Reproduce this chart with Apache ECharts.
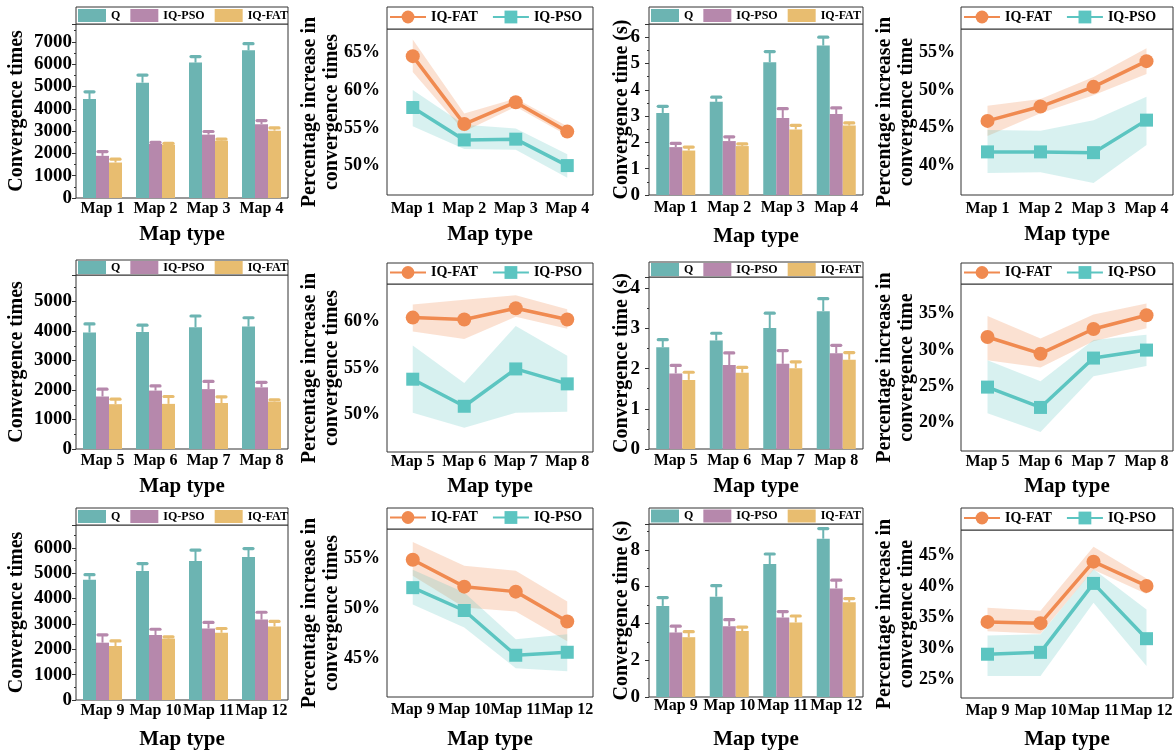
<!DOCTYPE html>
<html><head><meta charset="utf-8">
<script src="https://cdn.jsdelivr.net/npm/echarts@6/dist/echarts.min.js"></script>
<style>html,body{margin:0;padding:0;background:#fff}#c{width:1174px;height:753px}</style>
</head><body><div id="c"></div><script>
const FONT = '"Times New Roman","Liberation Serif",serif';

// ---------- categories ----------
const catsRow1 = ['Map 1', 'Map 2', 'Map 3', 'Map 4'];
const catsRow2 = ['Map 5', 'Map 6', 'Map 7', 'Map 8'];
const catsRow3 = ['Map 9', 'Map 10', 'Map 11', 'Map 12'];

// ---------- tick labels ----------
const ticksB = [50, 55, 60, 65];
const ticksD = [40, 45, 50, 55];
const ticksF = [50, 55, 60];
const ticksH = [20, 25, 30, 35];
const ticksJ = [45, 50, 55];
const ticksL = [25, 30, 35, 40, 45];

// ---------- Row 1: convergence times (bars) ----------
const r1TimesQ = [4440, 5170, 6070, 6620];
const r1TimesQErr = [320, 340, 270, 300];
const r1TimesPSO = [1890, 2420, 2840, 3310];
const r1TimesPSOErr = [190, 70, 140, 160];
const r1TimesFAT = [1590, 2390, 2570, 3020];
const r1TimesFATErr = [150, 60, 70, 120];
// Row 1: convergence time (s)
const r1SecQ = [3.12, 3.54, 5.05, 5.68];
const r1SecQErr = [0.25, 0.18, 0.40, 0.32];
const r1SecPSO = [1.82, 2.05, 2.93, 3.08];
const r1SecPSOErr = [0.14, 0.16, 0.35, 0.23];
const r1SecFAT = [1.69, 1.86, 2.49, 2.64];
const r1SecFATErr = [0.13, 0.08, 0.16, 0.10];
// Row 1: percentage increase in convergence times
const r1PctTimesFAT = [64.5, 55.5, 58.4, 54.5];
const r1PctTimesFATUp = [66.7, 56.9, 58.9, 55.2];
const r1PctTimesFATLo = [62.4, 54.5, 57.8, 54.0];
const r1PctTimesPSO = [57.7, 53.4, 53.5, 50.0];
const r1PctTimesPSOUp = [60.0, 55.4, 54.9, 51.5];
const r1PctTimesPSOLo = [55.2, 52.2, 52.1, 48.4];
// Row 1: percentage increase in convergence time
const r1PctSecFAT = [45.9, 47.8, 50.4, 53.8];
const r1PctSecFATUp = [47.9, 48.8, 51.7, 55.5];
const r1PctSecFATLo = [43.9, 46.9, 49.3, 52.1];
const r1PctSecPSO = [41.8, 41.8, 41.7, 46.0];
const r1PctSecPSOUp = [44.7, 44.6, 46.0, 49.1];
const r1PctSecPSOLo = [39.0, 39.1, 37.7, 42.7];

// ---------- Row 2 ----------
const r2TimesQ = [3950, 3970, 4130, 4150];
const r2TimesQErr = [290, 230, 380, 300];
const r2TimesPSO = [1780, 1980, 2030, 2090];
const r2TimesPSOErr = [250, 160, 260, 170];
const r2TimesFAT = [1520, 1530, 1560, 1610];
const r2TimesFATErr = [170, 250, 210, 60];
const r2SecQ = [2.53, 2.70, 3.01, 3.43];
const r2SecQErr = [0.19, 0.18, 0.37, 0.31];
const r2SecPSO = [1.88, 2.09, 2.12, 2.38];
const r2SecPSOErr = [0.20, 0.30, 0.33, 0.20];
const r2SecFAT = [1.72, 1.90, 2.01, 2.22];
const r2SecFATErr = [0.19, 0.13, 0.16, 0.18];
const r2PctTimesFAT = [60.4, 60.2, 61.4, 60.2];
const r2PctTimesFATUp = [61.8, 62.3, 62.8, 61.3];
const r2PctTimesFATLo = [58.9, 58.1, 60.5, 59.2];
const r2PctTimesPSO = [53.8, 50.9, 54.9, 53.3];
const r2PctTimesPSOUp = [57.4, 53.4, 59.5, 56.3];
const r2PctTimesPSOLo = [50.2, 48.6, 50.2, 50.3];
const r2PctSecFAT = [31.8, 29.5, 32.9, 34.8];
const r2PctSecFATUp = [34.7, 31.6, 34.9, 36.4];
const r2PctSecFATLo = [28.6, 27.6, 31.2, 33.0];
const r2PctSecPSO = [24.9, 22.1, 28.9, 30.0];
const r2PctSecPSOUp = [28.6, 25.7, 31.4, 32.1];
const r2PctSecPSOLo = [21.3, 18.7, 26.4, 27.8];

// ---------- Row 3 ----------
const r3TimesQ = [4740, 5090, 5480, 5640];
const r3TimesQErr = [200, 290, 430, 330];
const r3TimesPSO = [2260, 2560, 2820, 3170];
const r3TimesPSOErr = [310, 230, 240, 290];
const r3TimesFAT = [2130, 2420, 2650, 2900];
const r3TimesFATErr = [200, 70, 170, 200];
const r3SecQ = [4.95, 5.45, 7.22, 8.60];
const r3SecQErr = [0.45, 0.60, 0.55, 0.55];
const r3SecPSO = [3.50, 3.85, 4.32, 5.90];
const r3SecPSOErr = [0.35, 0.35, 0.32, 0.45];
const r3SecFAT = [3.25, 3.58, 4.05, 5.15];
const r3SecFATErr = [0.30, 0.22, 0.35, 0.20];
const r3PctTimesFAT = [54.9, 52.2, 51.7, 48.7];
const r3PctTimesFATUp = [56.7, 54.3, 53.8, 50.7];
const r3PctTimesFATLo = [53.3, 50.1, 49.7, 46.7];
const r3PctTimesPSO = [52.1, 49.8, 45.3, 45.6];
const r3PctTimesPSOUp = [53.9, 51.6, 46.9, 47.4];
const r3PctTimesPSOLo = [50.4, 48.1, 44.0, 43.7];
const r3PctSecFAT = [34.3, 34.1, 44.0, 40.1];
const r3PctSecFATUp = [36.6, 36.1, 46.4, 41.3];
const r3PctSecFATLo = [32.8, 32.4, 42.7, 38.8];
const r3PctSecPSO = [29.1, 29.4, 40.5, 31.6];
const r3PctSecPSOUp = [32.1, 32.3, 42.8, 36.3];
const r3PctSecPSOLo = [25.6, 25.6, 37.4, 27.2];

// ---------- styles ----------
const BAR_COLORS = ['#6CB4B2', '#B688AC', '#E8BD70'];
const BAR_NAMES = ['Q', 'IQ-PSO', 'IQ-FAT'];
const ORANGE = '#F08A50';
const TEAL = '#5CC5C1';
const ORANGE_BAND = 'rgba(240,138,80,0.26)';
const TEAL_BAND = 'rgba(92,197,193,0.24)';
const FRAME = '#333';
const BAR_W = 13;

const NAME_TIMES = 'Convergence times';
const NAME_SEC = 'Convergence time (s)';
const NAME_PCT_TIMES = 'Percentage increase in\nconvergence times';
const NAME_PCT_SEC = 'Percentage increase in\nconvergence time';

// ---------- panel layout ----------
const panels = [
  {id:'A', kind:'bar', cats:catsRow1, left:76, top:24, width:212, height:174, boxTop:7, yMax:7800, yInt:1000, yName:NAME_TIMES, yNameGap:48, yLabelMargin:4, xLabelMargin:3, xNameGap:26,
   vals:[r1TimesQ, r1TimesPSO, r1TimesFAT], errs:[r1TimesQErr, r1TimesPSOErr, r1TimesFATErr]},
  {id:'B', kind:'line', cats:catsRow1, left:387, top:29, width:206, height:166, boxTop:7, yMin:46.1, yMax:68.1, ticks:ticksB, yName:NAME_PCT_TIMES, yNameGap:44, yLabelMargin:7, xLabelMargin:6, xNameGap:29,
   fat:r1PctTimesFAT, fatUp:r1PctTimesFATUp, fatLo:r1PctTimesFATLo, pso:r1PctTimesPSO, psoUp:r1PctTimesPSOUp, psoLo:r1PctTimesPSOLo},
  {id:'C', kind:'bar', cats:catsRow1, left:649, top:24, width:214, height:171, boxTop:7, yMax:6.5, yInt:1, yName:NAME_SEC, yNameGap:16, yLabelMargin:9, xLabelMargin:5, xNameGap:31,
   vals:[r1SecQ, r1SecPSO, r1SecFAT], errs:[r1SecQErr, r1SecPSOErr, r1SecFATErr]},
  {id:'D', kind:'line', cats:catsRow1, left:961, top:29, width:212, height:166, boxTop:7, yMin:36.1, yMax:58.05, ticks:ticksD, yName:NAME_PCT_SEC, yNameGap:43, yLabelMargin:6, xLabelMargin:6, xNameGap:29,
   fat:r1PctSecFAT, fatUp:r1PctSecFATUp, fatLo:r1PctSecFATLo, pso:r1PctSecPSO, psoUp:r1PctSecPSOUp, psoLo:r1PctSecPSOLo},

  {id:'E', kind:'bar', cats:catsRow2, left:76, top:275, width:212, height:174, boxTop:260, yMax:5900, yInt:1000, yName:NAME_TIMES, yNameGap:48, yLabelMargin:4, xLabelMargin:4, xNameGap:27,
   vals:[r2TimesQ, r2TimesPSO, r2TimesFAT], errs:[r2TimesQErr, r2TimesPSOErr, r2TimesFATErr]},
  {id:'F', kind:'line', cats:catsRow2, left:387, top:284, width:206, height:168, boxTop:263, yMin:46.0, yMax:64.0, ticks:ticksF, yName:NAME_PCT_TIMES, yNameGap:44, yLabelMargin:7, xLabelMargin:2, xNameGap:24,
   fat:r2PctTimesFAT, fatUp:r2PctTimesFATUp, fatLo:r2PctTimesFATLo, pso:r2PctTimesPSO, psoUp:r2PctTimesPSOUp, psoLo:r2PctTimesPSOLo},
  {id:'G', kind:'bar', cats:catsRow2, left:649, top:277, width:214, height:172, boxTop:262, yMax:4.28, yInt:1, yName:NAME_SEC, yNameGap:16, yLabelMargin:9, xLabelMargin:4, xNameGap:27,
   vals:[r2SecQ, r2SecPSO, r2SecFAT], errs:[r2SecQErr, r2SecPSOErr, r2SecFATErr]},
  {id:'H', kind:'line', cats:catsRow2, left:961, top:284, width:212, height:167, boxTop:263, yMin:16.1, yMax:39.1, ticks:ticksH, yName:NAME_PCT_SEC, yNameGap:43, yLabelMargin:6, xLabelMargin:3, xNameGap:25,
   fat:r2PctSecFAT, fatUp:r2PctSecFATUp, fatLo:r2PctSecFATLo, pso:r2PctSecPSO, psoUp:r2PctSecPSOUp, psoLo:r2PctSecPSOLo},

  {id:'I', kind:'bar', cats:catsRow3, left:76, top:525, width:212, height:175, boxTop:508, yMax:6900, yInt:1000, yName:NAME_TIMES, yNameGap:48, yLabelMargin:4, xLabelMargin:3, xNameGap:29,
   vals:[r3TimesQ, r3TimesPSO, r3TimesFAT], errs:[r3TimesQErr, r3TimesPSOErr, r3TimesFATErr]},
  {id:'J', kind:'line', cats:catsRow3, left:387, top:529, width:206, height:168, boxTop:508, yMin:41.1, yMax:58.0, ticks:ticksJ, yName:NAME_PCT_TIMES, yNameGap:44, yLabelMargin:7, xLabelMargin:5, xNameGap:32,
   fat:r3PctTimesFAT, fatUp:r3PctTimesFATUp, fatLo:r3PctTimesFATLo, pso:r3PctTimesPSO, psoUp:r3PctTimesPSOUp, psoLo:r3PctTimesPSOLo},
  {id:'K', kind:'bar', cats:catsRow3, left:649, top:524, width:214, height:173, boxTop:508, yMax:9.4, yInt:2, yName:NAME_SEC, yNameGap:16, yLabelMargin:9, xLabelMargin:1, xNameGap:32,
   vals:[r3SecQ, r3SecPSO, r3SecFAT], errs:[r3SecQErr, r3SecPSOErr, r3SecFATErr]},
  {id:'L', kind:'line', cats:catsRow3, left:961, top:530, width:212, height:168, boxTop:508, yMin:22.05, yMax:49.1, ticks:ticksL, yName:NAME_PCT_SEC, yNameGap:43, yLabelMargin:6, xLabelMargin:5, xNameGap:31,
   fat:r3PctSecFAT, fatUp:r3PctSecFATUp, fatLo:r3PctSecFATLo, pso:r3PctSecPSO, psoUp:r3PctSecPSOUp, psoLo:r3PctSecPSOLo}
];

const txt = (size, extra) => Object.assign({fontFamily:FONT, fontWeight:'bold', fontSize:size, color:'#000'}, extra || {});

const option = {animation:false, backgroundColor:'#fff', grid:[], xAxis:[], yAxis:[], series:[], legend:[], graphic:[]};

function bandSeries(k, up, lo, color) {
  return {
    type:'custom', name:'band', xAxisIndex:k, yAxisIndex:k, silent:true, z:1,
    data:[[0, up[0]]],
    renderItem:(params, api) => {
      const pts = up.map((u, i) => api.coord([i, u]))
        .concat(lo.map((l, i) => api.coord([i, l])).reverse());
      return {type:'polygon', shape:{points:pts}, style:{fill:color}};
    }
  };
}

function errSeries(k, j, vals, errs, color) {
  return {
    type:'custom', name:'err', xAxisIndex:k, yAxisIndex:k, silent:true, z:3,
    encode:{x:0, y:1},
    data: vals.map((v, i) => [i, v, errs[i]]),
    renderItem:(params, api) => {
      const i = api.value(0), v = api.value(1), e = api.value(2);
      const b = api.coord([i, v]);
      const t = api.coord([i, v + e]);
      const x = b[0] + (j - 1) * BAR_W;
      return {type:'group', children:[
        {type:'line', shape:{x1:x, y1:b[1], x2:x, y2:t[1]}, style:{stroke:color, lineWidth:2}},
        {type:'line', shape:{x1:x - 4.5, y1:t[1], x2:x + 4.5, y2:t[1]}, style:{stroke:color, lineWidth:3.2, lineCap:'round'}}
      ]};
    }
  };
}

panels.forEach((p, k) => {
  option.grid.push({left:p.left, top:p.top, width:p.width, height:p.height, show:true,
    borderColor:FRAME, borderWidth:1, backgroundColor:'transparent', containLabel:false, outerBoundsMode:'none'});
  option.graphic.push({type:'rect', z:0, silent:true,
    shape:{x:p.left, y:p.boxTop, width:p.width, height:p.top - p.boxTop},
    style:{fill:'#fff', stroke:FRAME, lineWidth:1}});

  option.xAxis.push({
    gridIndex:k, type:'category', data:p.cats, boundaryGap:true,
    axisLine:{show:false}, axisTick:{show:false}, splitLine:{show:false},
    axisLabel:{interval:0, margin:p.xLabelMargin, hideOverlap:false, ...txt(16)},
    name:'Map type', nameLocation:'middle', nameGap:p.xNameGap, nameMoveOverlap:false, nameTextStyle:txt(21)
  });

  const yName = {name:p.yName, nameLocation:'middle', nameGap:p.yNameGap, nameMoveOverlap:false, nameTextStyle:txt(20, {lineHeight:22})};

  if (p.kind === 'bar') {
    const step = p.yInt;
    option.yAxis.push(Object.assign({
      gridIndex:k, type:'value', min:0, max:p.yMax, interval:step,
      axisLine:{show:false}, splitLine:{show:false},
      axisTick:{show:true, inside:false, length:4, lineStyle:{color:FRAME}},
      minorTick:{show:true, splitNumber:2, length:2, lineStyle:{color:FRAME}},
      axisLabel:Object.assign({margin:p.yLabelMargin, showMaxLabel:true,
        formatter:(v) => (Math.abs(v / step - Math.round(v / step)) < 1e-6 ? String(Math.round(v * 100) / 100) : '')}, txt(19))
    }, yName));
    const names = BAR_NAMES.map(n => n + '#' + p.id);
    p.vals.forEach((vals, j) => {
      option.series.push({type:'bar', name:names[j], xAxisIndex:k, yAxisIndex:k, data:vals,
        barWidth:BAR_W, barGap:'0%', barCategoryGap:'26%', itemStyle:{color:BAR_COLORS[j]}, z:2});
    });
    p.vals.forEach((vals, j) => option.series.push(errSeries(k, j, vals, p.errs[j], BAR_COLORS[j])));
    option.legend.push({
      left:p.left + 2, top:(p.boxTop + p.top) / 2 - 6.5, padding:0, itemGap:10, itemWidth:28, itemHeight:13,
      icon:'rect', selectedMode:false, data:names, formatter:(n) => n.split('#')[0], textStyle:txt(12)
    });
  } else {
    option.yAxis.push(Object.assign({
      gridIndex:k, type:'value', min:p.yMin, max:p.yMax, scale:true,
      axisLine:{show:false}, axisTick:{show:false}, splitLine:{show:false},
      axisLabel:Object.assign({margin:p.yLabelMargin, customValues:p.ticks, formatter:'{value}%'}, txt(18))
    }, yName));
    option.series.push(bandSeries(k, p.fatUp, p.fatLo, ORANGE_BAND));
    option.series.push(bandSeries(k, p.psoUp, p.psoLo, TEAL_BAND));
    const nFat = 'IQ-FAT#' + p.id, nPso = 'IQ-PSO#' + p.id;
    option.series.push({type:'line', name:nPso, xAxisIndex:k, yAxisIndex:k, data:p.pso, symbol:'rect', symbolSize:13,
      lineStyle:{width:3.5, color:TEAL}, itemStyle:{color:TEAL}, z:4});
    option.series.push({type:'line', name:nFat, xAxisIndex:k, yAxisIndex:k, data:p.fat, symbol:'circle', symbolSize:14,
      lineStyle:{width:3.5, color:ORANGE}, itemStyle:{color:ORANGE}, z:5});
    option.legend.push({
      left:p.left + 2, top:(p.boxTop + p.top) / 2 - 8, padding:0, itemGap:14, itemWidth:36, itemHeight:16,
      selectedMode:false, data:[nFat, nPso], formatter:(n) => n.split('#')[0], textStyle:txt(14)
    });
  }
});

const chart = echarts.init(document.getElementById('c'), null, {renderer:'canvas'});
chart.setOption(option);
</script></body></html>
